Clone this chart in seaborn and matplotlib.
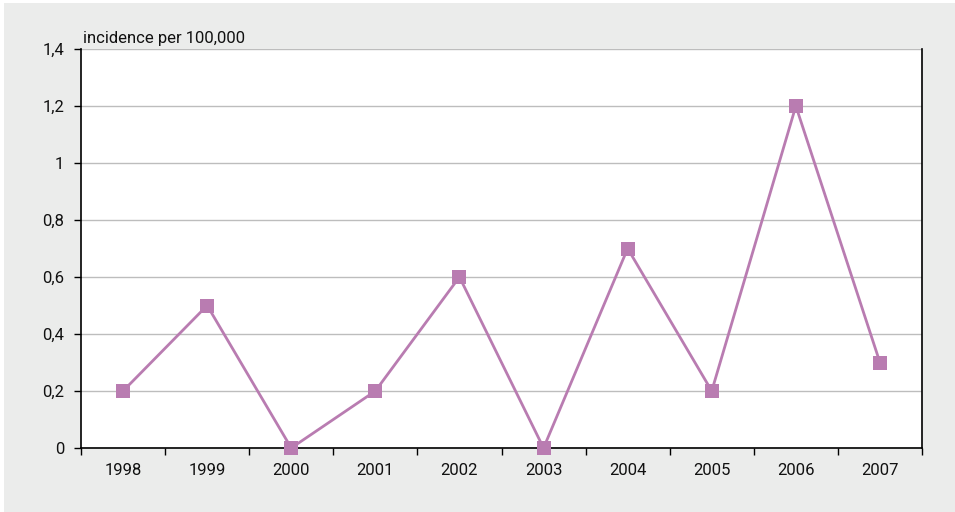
import matplotlib
matplotlib.use("Agg")
import matplotlib.pyplot as plt
from matplotlib.patches import Rectangle
from matplotlib.ticker import FixedLocator, FuncFormatter
import seaborn as sns
import pandas as pd

years = ["1998", "1999", "2000", "2001", "2002", "2003", "2004", "2005", "2006", "2007"]
incidence = [0.2, 0.5, 0.0, 0.2, 0.6, 0.0, 0.7, 0.2, 1.2, 0.3]
y_ticks = [0, 0.2, 0.4, 0.6, 0.8, 1.0, 1.2, 1.4]

sns.set_style("white")
plt.rcParams["font.family"] = ["Roboto", "DejaVu Sans"]

df = pd.DataFrame({"year": years, "incidence": incidence})

fig = plt.figure(figsize=(9.55, 5.12), dpi=100, facecolor="white")
# grey panel behind the chart
fig.patches.append(Rectangle((4 / 955, 0), 1, 1 - 3 / 512, transform=fig.transFigure,
                             facecolor="#ebeceb", edgecolor="none", zorder=-10))

ax = fig.add_axes([81 / 955, 1 - 448 / 512, (922 - 81) / 955, (448 - 49) / 512])
ax.set_facecolor("white")

color = "#b97cb1"
sns.lineplot(data=df, x="year", y="incidence", ax=ax, color=color, linewidth=2.0,
             marker="s", markersize=9.5, markeredgecolor=color, markeredgewidth=0,
             clip_on=False, zorder=3)

n = len(years)
ax.set_xlim(-0.5, n - 0.5)
ax.set_ylim(0, 1.4)

# category labels centred, tick marks on the boundaries
ax.xaxis.set_major_locator(FixedLocator([i - 0.5 for i in range(n + 1)]))
ax.xaxis.set_major_formatter(FuncFormatter(lambda v, p: ""))
ax.xaxis.set_minor_locator(FixedLocator(list(range(n))))
ax.xaxis.set_minor_formatter(FuncFormatter(lambda v, p: years[int(round(v))]))
ax.tick_params(axis="x", which="major", direction="out", length=5, width=1.0, color="black", bottom=True)
ax.tick_params(axis="x", which="minor", length=0, pad=11, labelsize=12, labelcolor="#111111")

ax.set_yticks(y_ticks)
ax.set_yticklabels([("%g" % v).replace(".", ",") for v in y_ticks])
ax.tick_params(axis="y", direction="out", length=5, width=1.0, color="black", left=True,
               labelsize=12, labelcolor="#111111", pad=7)

ax.grid(axis="y", color="#bdbdbd", linewidth=1.0)
ax.set_axisbelow(True)
for side in ["left", "bottom", "right"]:
    ax.spines[side].set_visible(True)
    ax.spines[side].set_color("black")
    ax.spines[side].set_linewidth(1.2)
ax.spines["top"].set_visible(False)

ax.set_xlabel("")
ax.set_ylabel("")
ax.text(0.002, 1.008, "incidence per 100,000", transform=ax.transAxes, ha="left", va="bottom",
        fontsize=12, color="#111111")

fig.savefig("out.png", dpi=100, facecolor=fig.get_facecolor())
